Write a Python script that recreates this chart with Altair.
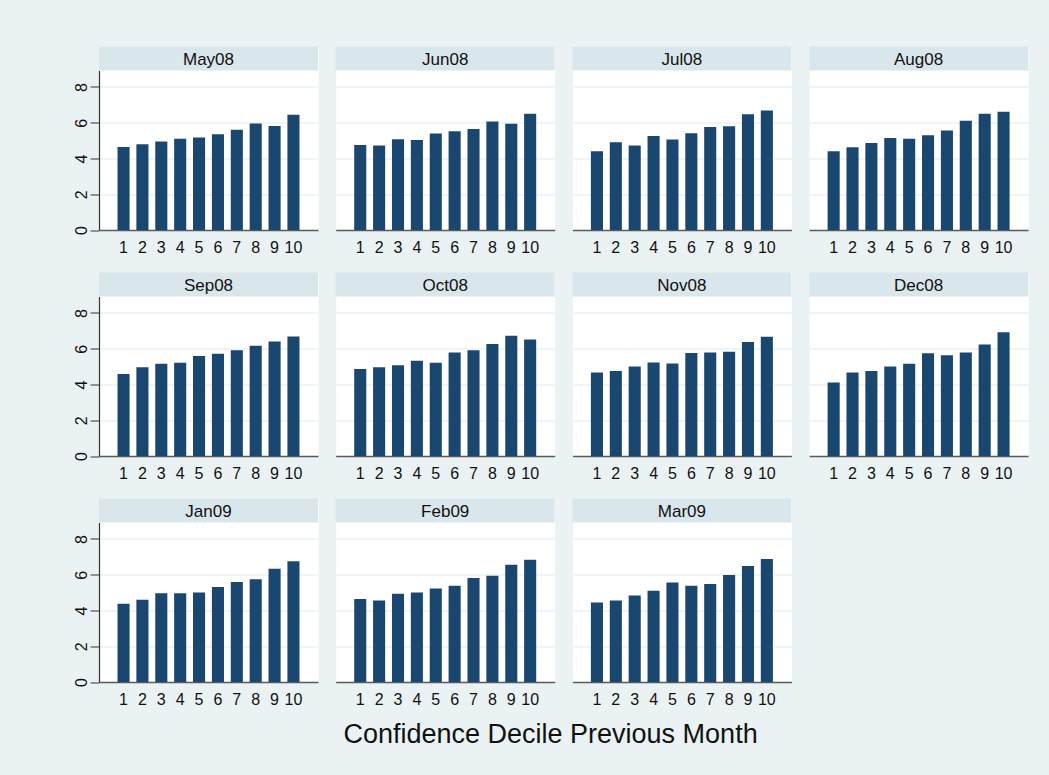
import altair as alt
import pandas as pd

# Mean confidence by decile of the previous month's confidence, one panel per survey month
months = ["May08", "Jun08", "Jul08", "Aug08", "Sep08", "Oct08",
          "Nov08", "Dec08", "Jan09", "Feb09", "Mar09"]
deciles = [1, 2, 3, 4, 5, 6, 7, 8, 9, 10]

may08 = [4.64, 4.80, 4.95, 5.10, 5.18, 5.35, 5.61, 5.96, 5.81, 6.45]
jun08 = [4.76, 4.72, 5.07, 5.04, 5.39, 5.52, 5.65, 6.07, 5.94, 6.50]
jul08 = [4.41, 4.91, 4.72, 5.26, 5.06, 5.41, 5.76, 5.80, 6.48, 6.69]
aug08 = [4.41, 4.63, 4.87, 5.15, 5.11, 5.30, 5.57, 6.11, 6.50, 6.61]
sep08 = [4.58, 4.97, 5.16, 5.21, 5.59, 5.72, 5.91, 6.17, 6.41, 6.69]
oct08 = [4.86, 4.97, 5.08, 5.33, 5.21, 5.79, 5.91, 6.26, 6.73, 6.52]
nov08 = [4.67, 4.75, 5.01, 5.23, 5.18, 5.76, 5.79, 5.83, 6.37, 6.67]
dec08 = [4.11, 4.67, 4.75, 5.01, 5.16, 5.74, 5.63, 5.79, 6.24, 6.92]
jan09 = [4.37, 4.60, 4.97, 4.97, 5.01, 5.31, 5.59, 5.74, 6.34, 6.75]
feb09 = [4.64, 4.56, 4.93, 5.01, 5.23, 5.38, 5.81, 5.94, 6.56, 6.84]
mar09 = [4.45, 4.56, 4.84, 5.10, 5.57, 5.38, 5.48, 5.98, 6.49, 6.88]

series = [may08, jun08, jul08, aug08, sep08, oct08, nov08, dec08, jan09, feb09, mar09]

rows = []
for m, vals in zip(months, series):
    for d, v in zip(deciles, vals):
        rows.append({"month": m, "decile": d, "value": v})
df = pd.DataFrame(rows)

FONT = "Liberation Sans"
W = 219          # panel width
STRIP = 24       # height of the title strip on top of each panel
H = 183.5        # panel height including the strip
NCOL = 4
NAVY = "#1A476F"
STRIP_FILL = "#D9E6EB"
BG = "#EAF2F3"
YTICKS = [0, 2, 4, 6, 8]


def make_panel(month, first_col):
    src = alt.Chart(df).transform_filter(alt.datum.month == month)
    if first_col:
        y_axis = alt.Axis(values=YTICKS, labelAngle=270, tickSize=9,
                          tickColor="#333", domainColor="#333", domainWidth=1.2,
                          labelFontSize=16, labelFont=FONT, labelColor="#111",
                          labelPadding=1, gridColor=BG, gridWidth=1.5)
    else:
        y_axis = alt.Axis(values=YTICKS, labels=False, ticks=False, domain=False,
                          gridColor=BG, gridWidth=1.5)

    bars = src.mark_bar(color=NAVY).encode(
        x=alt.X(
            "decile:O",
            title=None,
            scale=alt.Scale(paddingInner=0.36, paddingOuter=0.98),
            axis=alt.Axis(labelAngle=0, ticks=False, domainColor="#5a5a5a",
                          domainWidth=1.5, labelFontSize=16, labelFont=FONT,
                          labelColor="#111", labelPadding=9),
        ),
        y=alt.Y(
            "value:Q",
            title=None,
            scale=alt.Scale(domain=[0, 8.92], range=[H, STRIP], nice=False),
            axis=y_axis,
        ),
    )

    head = src.transform_filter(alt.datum.decile == 1)
    strip = head.mark_rect(color=STRIP_FILL).encode(
        x=alt.value(0), x2=alt.value(W), y=alt.value(0), y2=alt.value(STRIP)
    )
    strip_text = head.mark_text(
        font=FONT, fontSize=17, color="#111", baseline="middle", align="center"
    ).encode(
        x=alt.value(W / 2), y=alt.value(STRIP / 2 + 1), text="month:N"
    )
    return alt.layer(bars, strip, strip_text).properties(width=W, height=H)


panels = [make_panel(m, i % NCOL == 0) for i, m in enumerate(months)]

chart = alt.concat(
    *panels, columns=NCOL, spacing={"row": 42, "column": 17.7}
).properties(
    bounds="flush",
    title=alt.TitleParams(
        "Confidence Decile Previous Month", orient="bottom", anchor="middle",
        fontSize=27, font=FONT, fontWeight="normal", color="#111", offset=14
    ),
    padding={"left": 72, "top": 45.5, "right": 20, "bottom": 28},
).configure(
    background=BG
).configure_view(
    fill="white", stroke="transparent"
)

chart.save("out.html", embed_options={"renderer": "svg", "actions": False})
